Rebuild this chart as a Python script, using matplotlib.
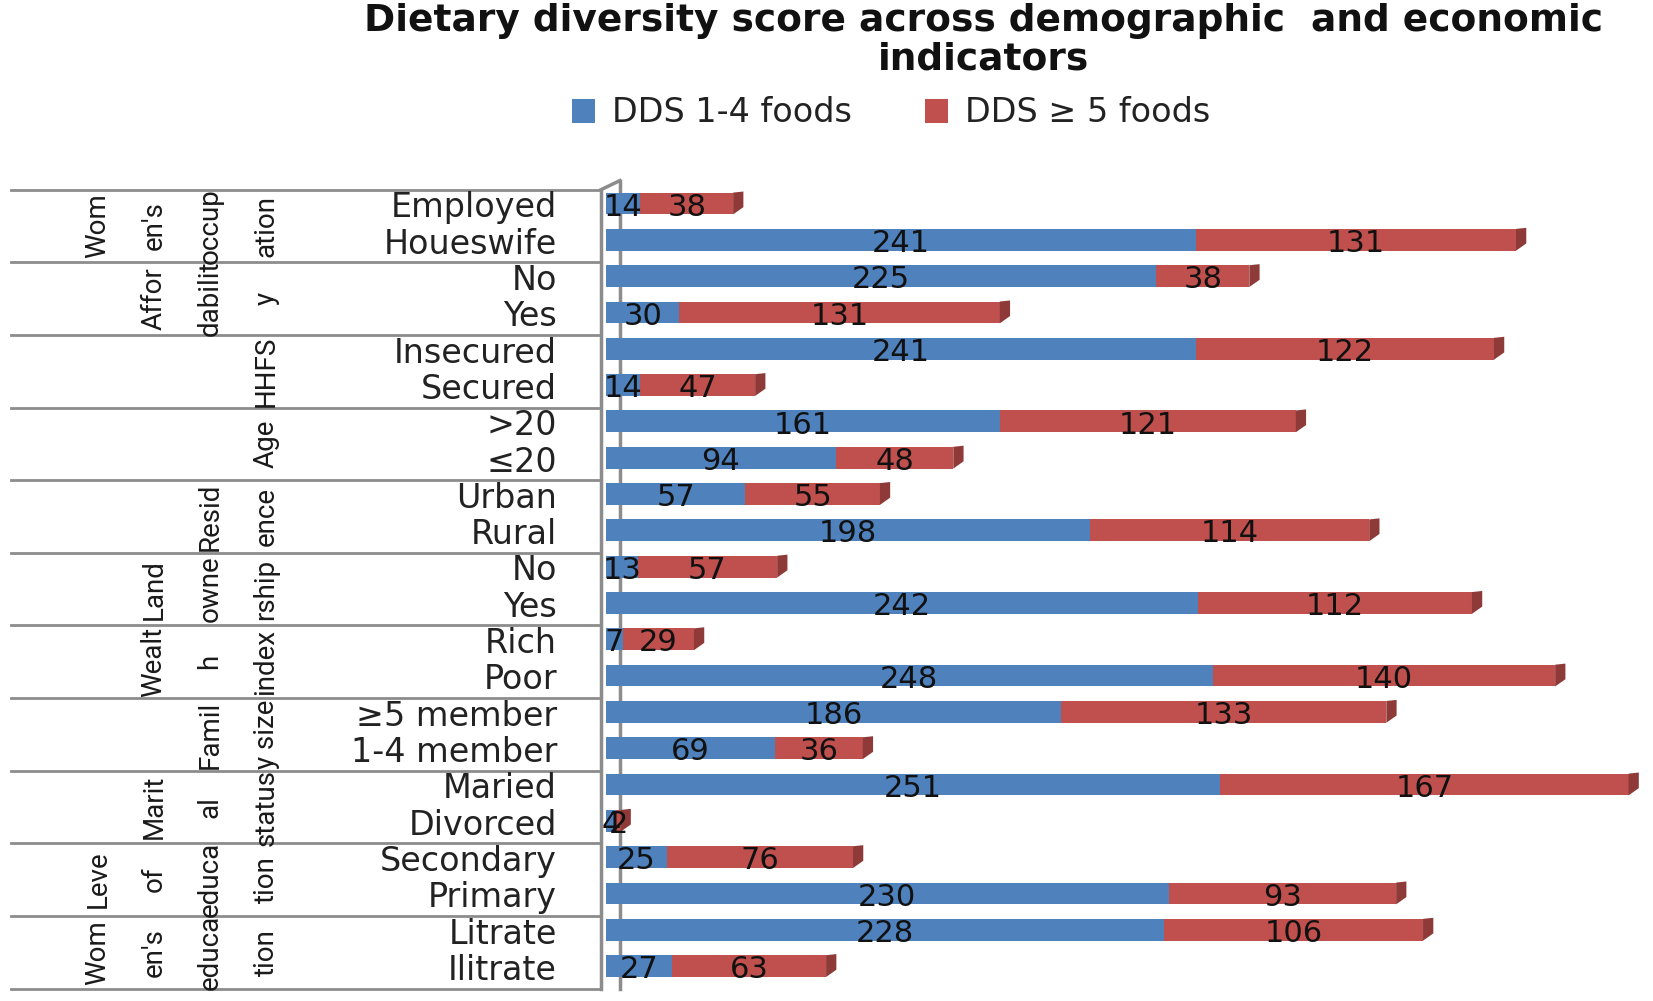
import matplotlib.pyplot as plt
from matplotlib.patches import Polygon

# ---- data ----
groups = ["Wom\nen's\noccup\nation", "Affor\ndabilit\ny", "HHFS", "Age",
          "Resid\nence", "Land\nowne\nrship", "Wealt\nh\nindex",
          "Famil\ny size", "Marit\nal\nstatus", "Leve\nof\neduca\ntion",
          "Wom\nen's\neduca\ntion"]
categories = ["Employed", "Houeswife", "No", "Yes", "Insecured", "Secured",
              ">20", "\u226420", "Urban", "Rural", "No", "Yes", "Rich", "Poor",
              "\u22655 member", "1-4 member", "Maried", "Divorced",
              "Secondary", "Primary", "Litrate", "Ilitrate"]
dds_low = [14, 241, 225, 30, 241, 14, 161, 94, 57, 198, 13, 242, 7, 248,
           186, 69, 251, 4, 25, 230, 228, 27]
dds_high = [38, 131, 38, 131, 122, 47, 121, 48, 55, 114, 57, 112, 29, 140,
            133, 36, 167, 2, 76, 93, 106, 63]

BLUE = '#4F81BD'
RED = '#C0504D'
RED_DARK = '#8E3A38'
GRID = '#8C8C8C'

W, H = 1653, 1001
fig = plt.figure(figsize=(W / 100, H / 100), dpi=100)

top_px, bot_px = 189.7, 988.6
ax_bottom = 1 - bot_px / H
ax_height = (bot_px - top_px) / H
split_px = 601

n = len(categories)
ylim = (n - 0.5, -0.5)

# left table
tab = fig.add_axes([0, ax_bottom, split_px / W, ax_height])
tab.set_xlim(0, split_px)
tab.set_ylim(*ylim)
tab.axis('off')
for k in range(len(groups) + 1):
    tab.plot([10.5, split_px], [2 * k - 0.5] * 2, color=GRID, lw=2, clip_on=False)
for i, c in enumerate(categories):
    tab.text(557, i, c, ha='right', va='center', fontsize=24, color='#222222')
for k, g in enumerate(groups):
    parts = g.split('\n')
    for j, p in enumerate(parts):
        x = 266 - (len(parts) - 1 - j) * 56
        tab.text(x, 2 * k + 0.5, p, ha='center', va='center', rotation=90,
                 fontsize=20, family='Roboto', color='#1a1a1a')

# bars
ax = fig.add_axes([split_px / W, ax_bottom, 1 - split_px / W, ax_height])
ax.set_xlim(-2, 428)
ax.set_ylim(*ylim)
ax.axis('off')

# 3D wall lines
ax.plot([-2, -2], [-0.5, n - 0.5], color=GRID, lw=2.5, clip_on=False, zorder=1)
ax.plot([5.7, 5.7], [-0.75, n - 0.5], color=GRID, lw=2.5, clip_on=False, zorder=1)
ax.plot([-2, 5.7], [-0.5, -0.75], color=GRID, lw=2.5, clip_on=False, zorder=1)

ypos = [i - 0.12 for i in range(n)]
bh = 0.6
ax.barh(ypos, dds_low, height=bh, color=BLUE, label='DDS 1-4 foods', zorder=3)
ax.barh(ypos, dds_high, left=dds_low, height=bh, color=RED,
        label='DDS \u2265 5 foods', zorder=3)

for y, a, b in zip(ypos, dds_low, dds_high):
    end = a + b
    cap = Polygon([(end, y - bh / 2), (end + 4.2, y - bh / 2 - 0.03),
                   (end + 4.2, y + bh / 2 - 0.2), (end, y + bh / 2)],
                  closed=True, facecolor=RED_DARK, edgecolor='none', zorder=3)
    ax.add_patch(cap)
    ax.text(a / 2, y + 0.1, str(a), ha='center', va='center', fontsize=22,
            color='#111111', zorder=5)
    ax.text(a + b / 2, y + 0.1, str(b), ha='center', va='center', fontsize=22,
            color='#111111', zorder=5)

fig.text(0.595, 1 - 21 / H, 'Dietary diversity score across demographic  and economic',
         ha='center', va='center', fontsize=27, fontweight='bold', color='#111111')
fig.text(0.595, 1 - 60 / H, 'indicators', ha='center', va='center',
         fontsize=27, fontweight='bold', color='#111111')

fig.legend(loc='center', bbox_to_anchor=(0.539, 1 - 113 / H), ncol=2,
           frameon=False, fontsize=24, handlelength=0.7, handleheight=0.7,
           handletextpad=0.5, columnspacing=2.2, labelcolor='#222222')

fig.savefig('out.png', dpi=100)
